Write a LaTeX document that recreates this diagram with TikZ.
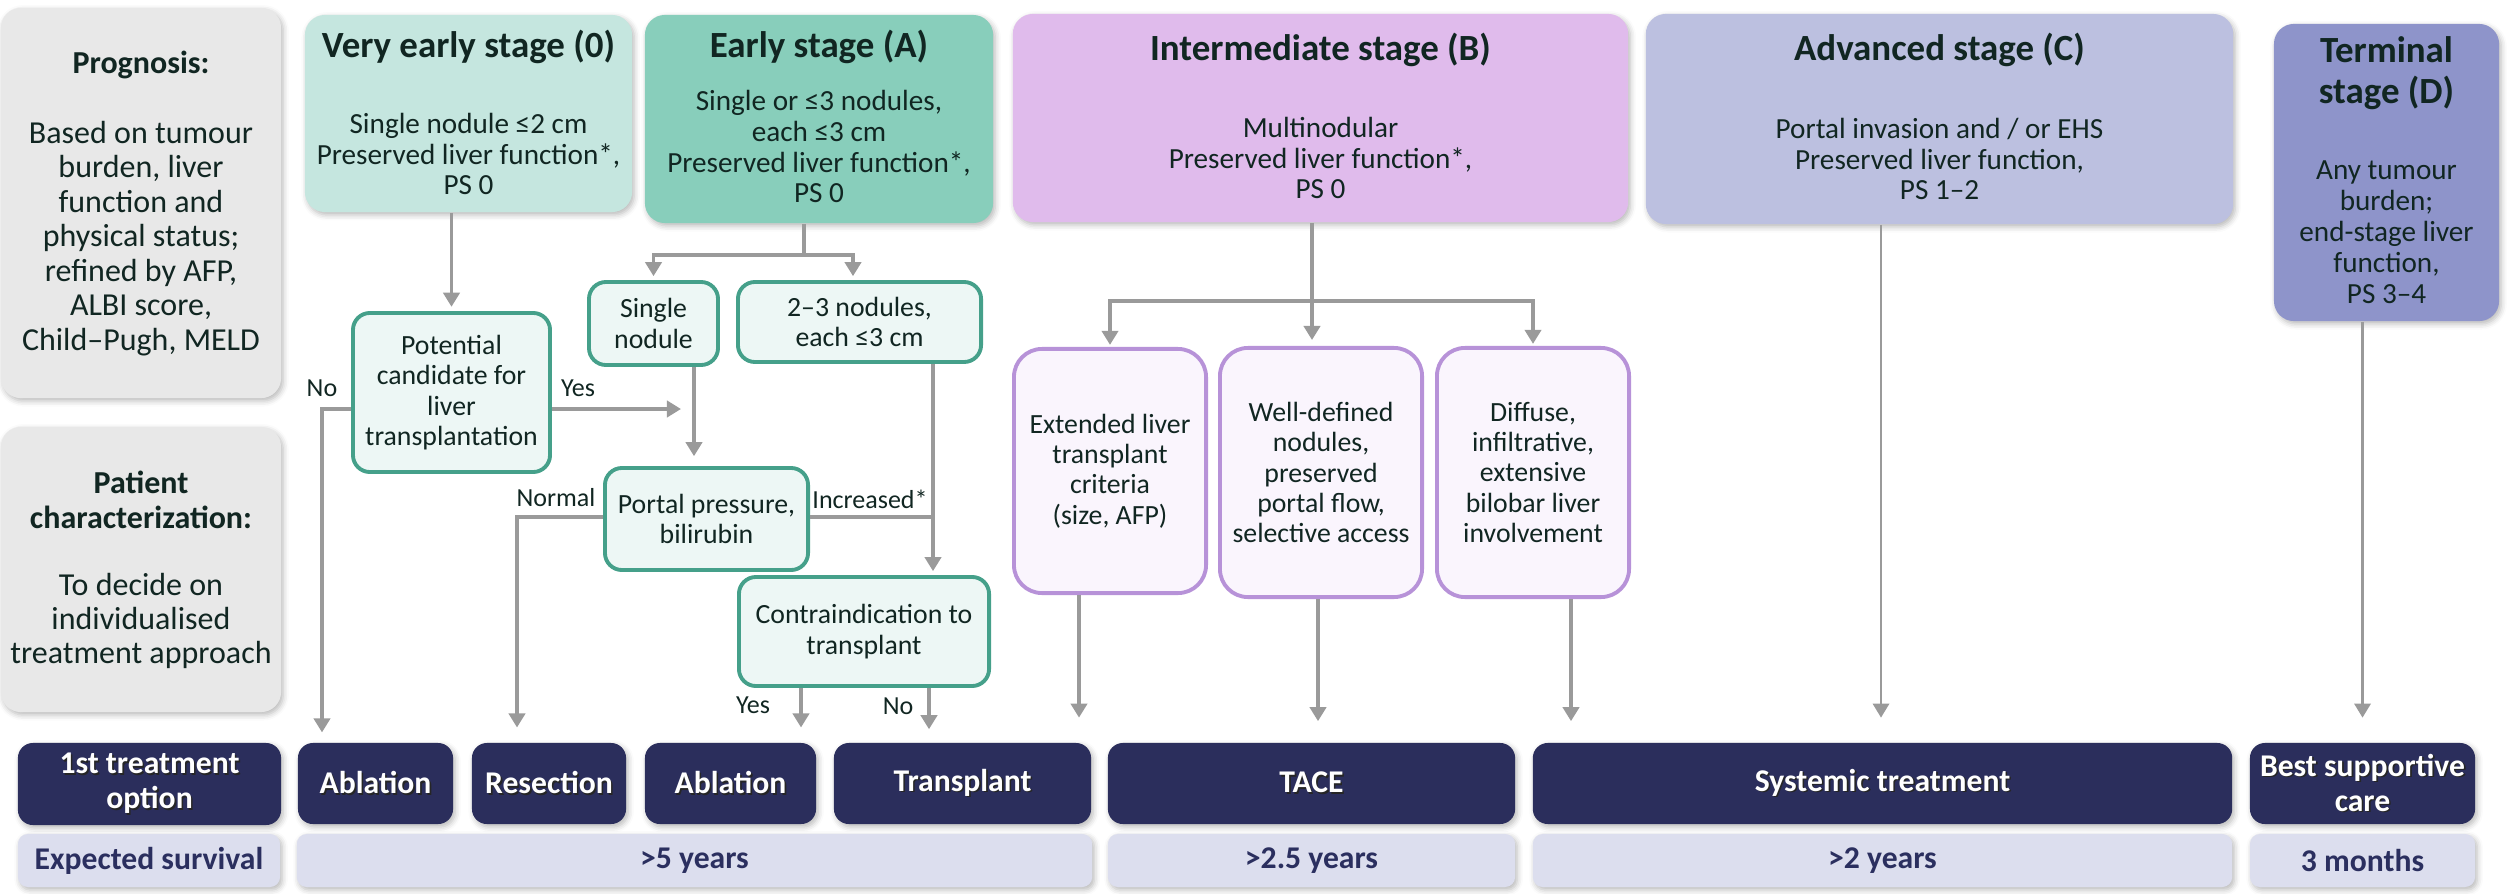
\documentclass[tikz,border=0pt]{standalone}
\usepackage{fontspec}
\setmainfont{Carlito}
\usetikzlibrary{arrows.meta,shadows.blur}

\definecolor{sidegrey}{HTML}{E8E8E8}
\definecolor{stageO}{HTML}{C5E6DF}
\definecolor{stageA}{HTML}{88CEBB}
\definecolor{stageB}{HTML}{E0BBEC}
\definecolor{stageC}{HTML}{BCC0E0}
\definecolor{stageD}{HTML}{8E94CA}
\definecolor{navy}{HTML}{2B2E5C}
\definecolor{survfill}{HTML}{DCDEEE}
\definecolor{survtext}{HTML}{2B2F5F}
\definecolor{tealline}{HTML}{45A08A}
\definecolor{tealfill}{HTML}{EDF7F5}
\definecolor{purpline}{HTML}{B792D8}
\definecolor{purpfill}{HTML}{FAF5FD}
\definecolor{arrowgrey}{HTML}{9A9A9A}
\definecolor{ink}{HTML}{112622}

% type sizes
\newcommand\fTitle{\fontsize{10.5pt}{11.4pt}\selectfont\bfseries}
\newcommand\fBody{\fontsize{8.3pt}{8.8pt}\selectfont}
\newcommand\fSide{\fontsize{9.1pt}{9.8pt}\selectfont}
\newcommand\fSmall{\fontsize{7.9pt}{8.6pt}\selectfont}
\newcommand\fLab{\fontsize{7.4pt}{8pt}\selectfont}
\newcommand\fDark{\fontsize{9pt}{10pt}\selectfont\bfseries}
% white label with a dark drop shadow
\newcommand\shd[1]{\leavevmode\rlap{\kern0.45pt\raisebox{-0.45pt}{\textcolor{black!85}{#1}}}#1}

\tikzset{
  softshadow/.style={blur shadow={shadow xshift=0.6pt, shadow yshift=-0.8pt,
      shadow blur radius=1.6pt, shadow opacity=28}},
  panel/.style={fill=sidegrey, rounded corners=0.2cm, inner sep=0, softshadow},
  stagebox/.style={rounded corners=0.2cm, inner sep=0, softshadow},
  title/.style={font=\fTitle, text=ink, align=center, inner sep=0},
  body/.style={font=\fBody, text=ink, align=center, inner sep=0},
  sidetxt/.style={font=\fSide, text=ink, align=center, inner sep=0},
  tealbox/.style={draw=tealline, line width=1.1pt, fill=tealfill, rounded corners=0.17cm,
      font=\fSmall, text=ink, align=center, inner sep=0},
  purpbox/.style={draw=purpline, line width=1.1pt, fill=purpfill, rounded corners=0.28cm,
      font=\fSmall, text=ink, align=center, inner sep=0},
  darkbox/.style={fill=navy, rounded corners=0.15cm, text=white, font=\fDark,
      align=center, inner sep=0, minimum height=0.81cm, softshadow},
  survbox/.style={fill=survfill, rounded corners=0.1cm, text=survtext, font=\fDark,
      align=center, inner sep=0, minimum height=0.53cm, softshadow},
  lab/.style={font=\fLab, text=ink, inner sep=0},
  conn/.style={draw=arrowgrey, line width=1.1pt},
  arr/.style={conn, -{Triangle[width=4.6pt,length=4pt]}},
  arrthin/.style={draw=arrowgrey, line width=0.8pt, -{Triangle[width=4.6pt,length=4pt]}},
}

\begin{document}
\begin{tikzpicture}[x=0.01cm, y=-0.01cm]
\useasboundingbox (0,0) rectangle (2509,894);

% ---- left-hand explanation panels
\node[panel, minimum width=2.8cm, minimum height=3.9cm] (prog) at (141,203) {};
\node[sidetxt, font=\fSide\bfseries] (progT) at (141,65) {Prognosis:};
\node[sidetxt] (progB) at (141,238.5) {Based on tumour\\burden, liver\\function and\\physical status;\\refined by AFP,\\ALBI score,\\Child–Pugh, MELD};

\node[panel, minimum width=2.8cm, minimum height=2.85cm] (pat) at (141,569.5) {};
\node[sidetxt, font=\fSide\bfseries] (patT) at (141,500) {Patient\\characterization:};
\node[sidetxt] (patB) at (141,621) {To decide on\\individualised\\treatment approach};

% ---- stage headers
\node[stagebox, fill=stageO, minimum width=3.27cm, minimum height=1.97cm] (s0) at (468.5,113.5) {};
\node[title] (s0T) at (468.5,47) {Very early stage (0)};
\node[body] (s0B) at (468.5,154) {Single nodule ≤2 cm\\Preserved liver function*,\\PS 0};

\node[stagebox, fill=stageA, minimum width=3.48cm, minimum height=2.08cm] (sA) at (819,119) {};
\node[title] (sAT) at (819,47) {Early stage (A)};
\node[body] (sAB) at (819,146.5) {Single or ≤3 nodules,\\each ≤3 cm\\Preserved liver function*,\\PS 0};

\node[stagebox, fill=stageB, minimum width=6.15cm, minimum height=2.08cm] (sB) at (1320.5,118) {};
\node[title] (sBT) at (1320.5,50) {Intermediate stage (B)};
\node[body] (sBB) at (1320.5,158) {Multinodular\\Preserved liver function*,\\PS 0};

\node[stagebox, fill=stageC, minimum width=5.87cm, minimum height=2.1cm] (sC) at (1939.5,119) {};
\node[title] (sCT) at (1939.5,50) {Advanced stage (C)};
\node[body] (sCB) at (1939.5,159) {Portal invasion and / or EHS\\Preserved liver function,\\PS 1–2};

\node[stagebox, fill=stageD, minimum width=2.25cm, minimum height=2.97cm] (sD) at (2386.5,172.5) {};
\node[title, font=\fontsize{10.5pt}{11.6pt}\selectfont\bfseries] (sDT) at (2386.5,73) {Terminal\\stage (D)};
\node[body] (sDB) at (2386.5,232.5) {Any tumour\\burden;\\end-stage liver\\function,\\PS 3–4};

% ---- decision boxes, early stages
\node[tealbox, minimum width=1.97cm, minimum height=1.59cm] (cand) at (451.5,392.5) {Potential\\candidate for\\liver\\transplantation};
\node[tealbox, minimum width=1.29cm, minimum height=0.83cm] (single) at (653.5,323.5) {Single\\nodule};
\node[tealbox, minimum width=2.43cm, minimum height=0.8cm] (twothree) at (859.5,322) {2–3 nodules,\\each ≤3 cm};
\node[tealbox, minimum width=2.03cm, minimum height=1.02cm] (portal) at (706.5,519) {Portal pressure,\\bilirubin};
\node[tealbox, minimum width=2.5cm, minimum height=1.09cm] (contra) at (864,631.5) {Contraindication to\\transplant};

% ---- decision boxes, intermediate stage
\node[purpbox, minimum width=1.92cm, minimum height=2.44cm] (ext) at (1110,471) {Extended liver\\transplant\\criteria\\(size, AFP)};
\node[purpbox, minimum width=2.02cm, minimum height=2.49cm] (well) at (1321,472.5) {Well-defined\\nodules,\\preserved\\portal flow,\\selective access};
\node[purpbox, minimum width=1.92cm, minimum height=2.49cm] (diff) at (1533,472.5) {Diffuse,\\infiltrative,\\extensive\\bilobar liver\\involvement};

% ---- treatment row
\node[darkbox, minimum width=2.63cm, minimum height=0.82cm] (opt) at (149.5,784) {\shd{1st treatment}\\\shd{option}};
\node[darkbox, minimum width=1.55cm] (abl1) at (375.5,783.5) {\shd{Ablation}};
\node[darkbox, minimum width=1.54cm] (resec) at (549,783.5) {\shd{Resection}};
\node[darkbox, minimum width=1.71cm] (abl2) at (730.5,783.5) {\shd{Ablation}};
\node[darkbox, minimum width=2.57cm] (transp) at (962.5,783.5) {\shd{Transplant}};
\node[darkbox, minimum width=4.07cm] (tace) at (1311.5,783.5) {\shd{TACE}};
\node[darkbox, minimum width=6.99cm] (syst) at (1882.5,783.5) {\shd{Systemic treatment}};
\node[darkbox, minimum width=2.25cm] (bsc) at (2362.5,783.5) {\shd{Best supportive}\\\shd{care}};

% ---- survival row
\node[survbox, minimum width=2.62cm] (surv) at (149,860.5) {Expected survival};
\node[survbox, minimum width=7.95cm] (y5) at (694.5,860.5) {>5 years};
\node[survbox, minimum width=4.07cm] (y25) at (1311.5,860.5) {>2.5 years};
\node[survbox, minimum width=6.99cm] (y2) at (1882.5,860.5) {>2 years};
\node[survbox, minimum width=2.25cm] (m3) at (2362.5,860.5) {3 months};

% ---- connectors: very early stage
\draw[arr, shorten >=1.2pt] (s0.south -| cand.north) -- (cand.north);
\coordinate (sx) at (694,409);
\coordinate (nx) at (322,409);
\draw[arr, shorten >=3.7pt] (cand.east |- sx) -- (sx);
\draw[arr, shorten >=2.8pt] (cand.west |- sx) -- (nx) -- (nx |- abl1.north);
\node[lab] (lno1) at (322,388) {No};
\node[lab] (lyes1) at (578,388) {Yes};

% ---- connectors: early stage
\coordinate (ea) at (804,255);
\draw[conn] (sA.south -| ea) -- (ea);
\draw[arr, shorten >=1.1pt] (ea) -| (single.north);
\draw[arr, shorten >=1.1pt] (ea) -| ([xshift=-0.065cm]twothree.north);
\draw[arr, shorten >=2.8pt] (single.south -| sx) -- (sx |- portal.north);

\coordinate (px) at (517,517);
\draw[arr, shorten >=4.2pt] (portal.west |- px) -- (px) -- (px |- resec.north);
\node[lab] (lnorm) at (556,498) {Normal};

\coordinate (ix) at (933,517);
\draw[conn] (portal.east |- ix) -- (ix);
\draw[arr, shorten >=1.1pt] (twothree.south -| ix) -- (ix |- contra.north);
\node[lab] (linc) at (870,499) {Increased*};

\coordinate (cyes) at (801,700);
\coordinate (cno) at (929,700);
\draw[arr, shorten >=4.2pt] (contra.south -| cyes) -- (cyes |- abl2.north);
\draw[arr, shorten >=3.7pt] (contra.south -| cno) -- (cno |- transp.north);
\node[lab] (lyes2) at (753,705) {Yes};
\node[lab] (lno2) at (898,706) {No};

% ---- connectors: intermediate stage
\coordinate (ib) at (1312,301);
\draw[conn] (sB.south -| ib) -- (ib);
\draw[arr, shorten >=0.6pt] (ib) -| (ext.north);
\draw[arr, shorten >=1.7pt] (ib) -- (ib |- well.north);
\draw[arr, shorten >=0.6pt] (ib) -| (diff.north);

\coordinate (ex) at (1079,650);
\coordinate (wx) at (1318,650);
\coordinate (dx) at (1571,650);
\draw[arr, shorten >=7pt] (ext.south -| ex) -- (ex |- transp.north);
\draw[arr, shorten >=6pt] (well.south -| wx) -- (wx |- tace.north);
\draw[arr, shorten >=6pt] (diff.south -| dx) -- (dx |- syst.north);

% ---- connectors: advanced and terminal stages
\coordinate (ax) at (1881,650);
\draw[arrthin, shorten >=7pt] (sC.south -| ax) -- (ax |- syst.north);
\draw[arrthin, shorten >=7pt] (sD.south -| bsc.north) -- (bsc.north);
\end{tikzpicture}
\end{document}
